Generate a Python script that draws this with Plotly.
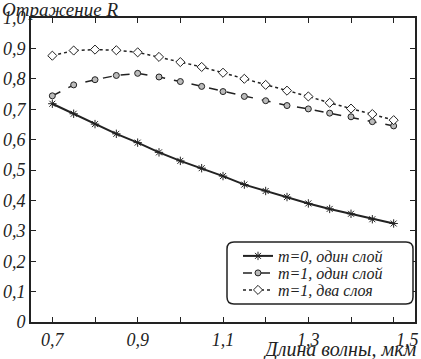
import plotly.graph_objects as go

wavelength = [0.70, 0.75, 0.80, 0.85, 0.90, 0.95, 1.00, 1.05, 1.10,
              1.15, 1.20, 1.25, 1.30, 1.35, 1.40, 1.45, 1.50]
r_m0_one = [0.718, 0.685, 0.651, 0.619, 0.590, 0.558, 0.530, 0.506, 0.480,
            0.452, 0.431, 0.411, 0.390, 0.372, 0.356, 0.338, 0.324]
r_m1_one = [0.744, 0.780, 0.797, 0.811, 0.818, 0.806, 0.791, 0.775, 0.758,
            0.742, 0.728, 0.712, 0.701, 0.687, 0.675, 0.659, 0.645]
r_m1_two = [0.876, 0.893, 0.896, 0.894, 0.887, 0.872, 0.855, 0.839, 0.820,
            0.800, 0.780, 0.761, 0.742, 0.721, 0.702, 0.684, 0.664]
names = ["m=0, один слой", "m=1, один слой", "m=1, два слоя"]

NB = "\u00a0"
x_tickvals = [0.7, 0.8, 0.9, 1.0, 1.1, 1.2, 1.3, 1.4, 1.5]
x_ticktext = ["0,7", "", "0,9", "", "1,1", "", "1,3", "", NB * 6 + "1,5"]
y_tickvals = [0, 0.1, 0.2, 0.3, 0.4, 0.5, 0.6, 0.7, 0.8, 0.9, 1.0]
y_ticktext = ["0", "0,1", "0,2", "0,3", "0,4", "0,5", "0,6", "0,7", "0,8", "0,9", "1,0"]

FONT = "Liberation Serif"
INK = "#222222"

W, H = 421, 359
L, R, T, B = 31, 6, 18, 37
pw, ph = W - L - R, H - T - B

def px(x):
    return (x - L) / pw

def py(y):
    return (H - B - y) / ph

fig = go.Figure()
fig.add_trace(go.Scatter(x=wavelength, y=r_m0_one, name=names[0], mode="lines+markers",
                         legend="legend",
                         line=dict(color=INK, width=2),
                         marker=dict(symbol="asterisk-open", size=7, color=INK,
                                     line=dict(color=INK, width=1))))
fig.add_trace(go.Scatter(x=wavelength, y=r_m1_one, name=names[1], mode="lines+markers",
                         legend="legend2",
                         line=dict(color=INK, width=1.5, dash="dash"),
                         marker=dict(symbol="circle", size=6, color="#bbbbbb",
                                     line=dict(color=INK, width=1))))
fig.add_trace(go.Scatter(x=wavelength, y=r_m1_two, name=names[2], mode="lines+markers",
                         legend="legend3",
                         line=dict(color=INK, width=1.5, dash="dot"),
                         marker=dict(symbol="diamond", size=7, color="white",
                                     line=dict(color=INK, width=1))))

x0, x1, y0, y1 = px(227), px(413), py(304), py(242)
rx, ry = 7 / pw, 7 / ph
path = (f"M {x0+rx},{y0} L {x1-rx},{y0} Q {x1},{y0} {x1},{y0+ry} "
        f"L {x1},{y1-ry} Q {x1},{y1} {x1-rx},{y1} L {x0+rx},{y1} "
        f"Q {x0},{y1} {x0},{y1-ry} L {x0},{y0+ry} Q {x0},{y0} {x0+rx},{y0} Z")

def leg(yc):
    return dict(x=px(238), y=py(yc), xanchor="left", yanchor="middle",
                bgcolor="rgba(0,0,0,0)", borderwidth=0,
                font=dict(family=FONT, size=16, color=INK, style="italic"),
                itemwidth=30, tracegroupgap=0)

fig.update_layout(
    width=W, height=H,
    margin=dict(l=L, r=R, t=T, b=B, autoexpand=False),
    paper_bgcolor="white", plot_bgcolor="white",
    font=dict(family=FONT, size=18, color=INK, style="italic"),
    showlegend=True,
    legend=leg(256),
    legend2=leg(273),
    legend3=leg(290),
    shapes=[dict(type="path", xref="paper", yref="paper", path=path,
                 line=dict(color=INK, width=1.5), fillcolor="white", layer="above")],
    xaxis=dict(range=[0.65, 1.55], tickvals=x_tickvals, ticktext=x_ticktext,
               ticks="inside", ticklen=5, tickwidth=1, tickcolor=INK,
               showline=True, linewidth=2, linecolor=INK, mirror="ticks",
               showgrid=False, zeroline=False, automargin=False,
               tickfont=dict(family=FONT, size=18, style="italic")),
    yaxis=dict(range=[0, 1.0], tickvals=y_tickvals, ticktext=y_ticktext,
               ticks="inside", ticklen=5, tickwidth=1, tickcolor=INK,
               showline=True, linewidth=2, linecolor=INK, mirror="ticks",
               showgrid=False, zeroline=False, automargin=False,
               tickfont=dict(family=FONT, size=18, style="italic")),
    annotations=[
        dict(text="Отражение R", xref="paper", yref="paper", x=px(0), y=py(-3),
             xanchor="left", yanchor="top", showarrow=False,
             font=dict(family=FONT, size=19, style="italic")),
        dict(text="Длина волны, мкм", xref="paper", yref="paper", x=px(419), y=py(349),
             xanchor="right", yanchor="middle", showarrow=False,
             font=dict(family=FONT, size=20, style="italic")),
    ],
)
fig.write_html("out.html", config={"displayModeBar": False},
               post_script="document.body.style.margin='0';document.body.style.overflow='hidden';")
